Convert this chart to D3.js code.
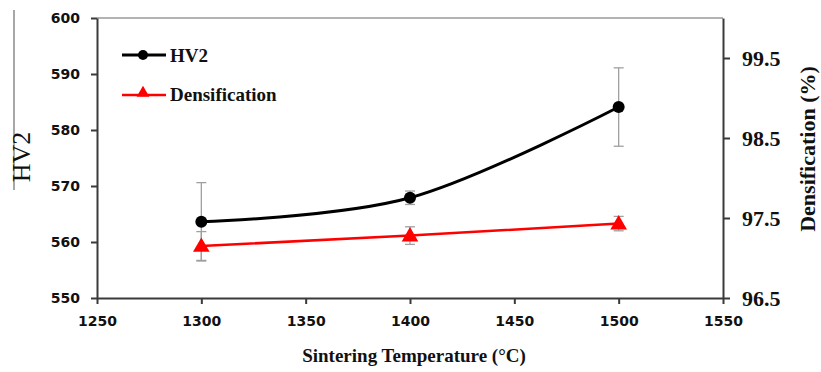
<!DOCTYPE html>
<html>
<head>
    <title>HV2 and Densification vs. Sintering Temperature</title>
    <script src="https://d3js.org/d3.v7.min.js"></script>
    <style>
        body { margin: 0; background: #fff; }
        .tick-sans text {
            font-family: "DejaVu Sans", sans-serif;
            font-weight: bold;
            font-size: 14px;
            fill: #111;
        }
        .tick-serif text {
            font-family: "Liberation Serif", serif;
            font-weight: bold;
            font-size: 22px;
            fill: #111;
        }
        .axis path, .axis line {
            stroke: #3a3a3a;
            stroke-width: 2px;
        }
        .title {
            font-family: "Liberation Serif", serif;
            font-weight: bold;
            fill: #111;
        }
        .line {
            fill: none;
        }
    </style>
</head>
<body>
    <svg width="821" height="372"></svg>
    <script>
        // values
        var temps = [1300, 1400, 1500];
        var hv2 = [563.6, 567.9, 584.1];
        var hv2Err = [7.0, 1.2, 7.0];
        var dens = [97.15, 97.28, 97.43];
        var densErr = [0.18, 0.11, 0.09];
        var xTicks = [1250, 1300, 1350, 1400, 1450, 1500, 1550];
        var leftTicks = [550, 560, 570, 580, 590, 600];
        var rightTicks = [96.5, 97.5, 98.5, 99.5];

        var svg = d3.select("svg"),
            margin = {top: 18, right: 98, bottom: 74, left: 97},
            width = +svg.attr("width") - margin.left - margin.right,
            height = +svg.attr("height") - margin.top - margin.bottom;

        var x = d3.scaleLinear().domain([1250, 1550]).range([0, width]);
        var yL = d3.scaleLinear().domain([550, 600]).range([height, 0]);
        var yR = d3.scaleLinear().domain([96.5, 100]).range([height, 0]);

        // odd grey stroke at the far left of the original figure
        svg.append("line")
           .attr("x1", 14).attr("x2", 14)
           .attr("y1", 10).attr("y2", 190)
           .style("stroke", "#8a8a8a")
           .style("stroke-width", 1.5);

        var g = svg.append("g")
                   .attr("transform", "translate(" + margin.left + "," + margin.top + ")");

        // top border of the plot area
        g.append("line")
         .attr("x1", 0).attr("x2", width)
         .attr("y1", 0).attr("y2", 0)
         .style("stroke", "#9a9a9a")
         .style("stroke-width", 1.5);

        g.append("g")
         .attr("class", "axis tick-sans")
         .attr("transform", "translate(0," + height + ")")
         .call(d3.axisBottom(x).tickValues(xTicks).tickSize(6).tickSizeOuter(0).tickPadding(12).tickFormat(d3.format("d")));

        g.append("g")
         .attr("class", "axis tick-sans")
         .call(d3.axisLeft(yL).tickValues(leftTicks).tickSize(6).tickSizeOuter(0).tickPadding(11));

        g.append("g")
         .attr("class", "axis tick-serif")
         .attr("transform", "translate(" + width + ",0)")
         .call(d3.axisRight(yR).tickValues(rightTicks).tickSize(7).tickSizeOuter(0).tickPadding(12).tickFormat(d3.format(".1f")));

        // axis titles
        g.append("text")
         .attr("class", "title")
         .attr("x", width / 2 + 4)
         .attr("y", height + 64)
         .attr("text-anchor", "middle")
         .style("font-size", "19px")
         .text("Sintering Temperature (°C)");

        svg.append("text")
           .attr("transform", "translate(30,157) rotate(-90)")
           .attr("text-anchor", "middle")
           .style("font-family", "'Liberation Serif', serif")
           .style("font-size", "26px")
           .style("fill", "#111")
           .text("HV2");

        svg.append("text")
           .attr("class", "title")
           .attr("transform", "translate(815,149) rotate(-90)")
           .attr("text-anchor", "middle")
           .style("font-size", "22px")
           .text("Densification (%)");

        var hvData = temps.map(function(t, i) { return {t: t, v: hv2[i], e: hv2Err[i]}; });
        var dnData = temps.map(function(t, i) { return {t: t, v: dens[i], e: densErr[i]}; });

        // error bars
        function errorBars(data, y) {
            data.forEach(function(d) {
                var cx = x(d.t);
                g.append("line")
                 .attr("x1", cx).attr("x2", cx)
                 .attr("y1", y(d.v - d.e)).attr("y2", y(d.v + d.e))
                 .style("stroke", "#a0a0a0").style("stroke-width", 1.3);
                [d.v - d.e, d.v + d.e].forEach(function(v) {
                    g.append("line")
                     .attr("x1", cx - 5).attr("x2", cx + 5)
                     .attr("y1", y(v)).attr("y2", y(v))
                     .style("stroke", "#a0a0a0").style("stroke-width", 1.3);
                });
            });
        }
        errorBars(hvData, yL);
        errorBars(dnData, yR);

        var hvLine = d3.line()
            .curve(d3.curveCardinal.tension(0))
            .x(function(d) { return x(d.t); })
            .y(function(d) { return yL(d.v); });

        var dnLine = d3.line()
            .x(function(d) { return x(d.t); })
            .y(function(d) { return yR(d.v); });

        g.append("path")
         .datum(dnData)
         .attr("class", "line")
         .attr("d", dnLine)
         .style("stroke", "#ff0000")
         .style("stroke-width", 2.5);

        g.append("path")
         .datum(hvData)
         .attr("class", "line")
         .attr("d", hvLine)
         .style("stroke", "#000")
         .style("stroke-width", 3);

        g.selectAll(".hvdot")
         .data(hvData)
         .enter().append("circle")
         .attr("cx", function(d) { return x(d.t); })
         .attr("cy", function(d) { return yL(d.v); })
         .attr("r", 6)
         .style("fill", "#000");

        var tri = d3.symbol().type(d3.symbolTriangle).size(120);
        g.selectAll(".dntri")
         .data(dnData)
         .enter().append("path")
         .attr("d", tri)
         .attr("transform", function(d) { return "translate(" + x(d.t) + "," + (yR(d.v) + 1) + ")"; })
         .style("fill", "#ff0000");

        // legend
        var legend = g.append("g").attr("transform", "translate(25,37)");
        legend.append("line")
              .attr("x1", 0).attr("x2", 44).attr("y1", 0).attr("y2", 0)
              .style("stroke", "#000").style("stroke-width", 3);
        legend.append("circle").attr("cx", 21).attr("cy", 0).attr("r", 5).style("fill", "#000");
        legend.append("text")
              .attr("class", "title")
              .attr("x", 48).attr("y", 7)
              .style("font-size", "19px")
              .text("HV2");

        legend.append("line")
              .attr("x1", 0).attr("x2", 44).attr("y1", 40).attr("y2", 40)
              .style("stroke", "#ff0000").style("stroke-width", 2.5);
        legend.append("path")
              .attr("d", d3.symbol().type(d3.symbolTriangle).size(70))
              .attr("transform", "translate(21,38)")
              .style("fill", "#ff0000");
        legend.append("text")
              .attr("class", "title")
              .attr("x", 48).attr("y", 46)
              .style("font-size", "19px")
              .text("Densification");
    </script>
</body>
</html>
